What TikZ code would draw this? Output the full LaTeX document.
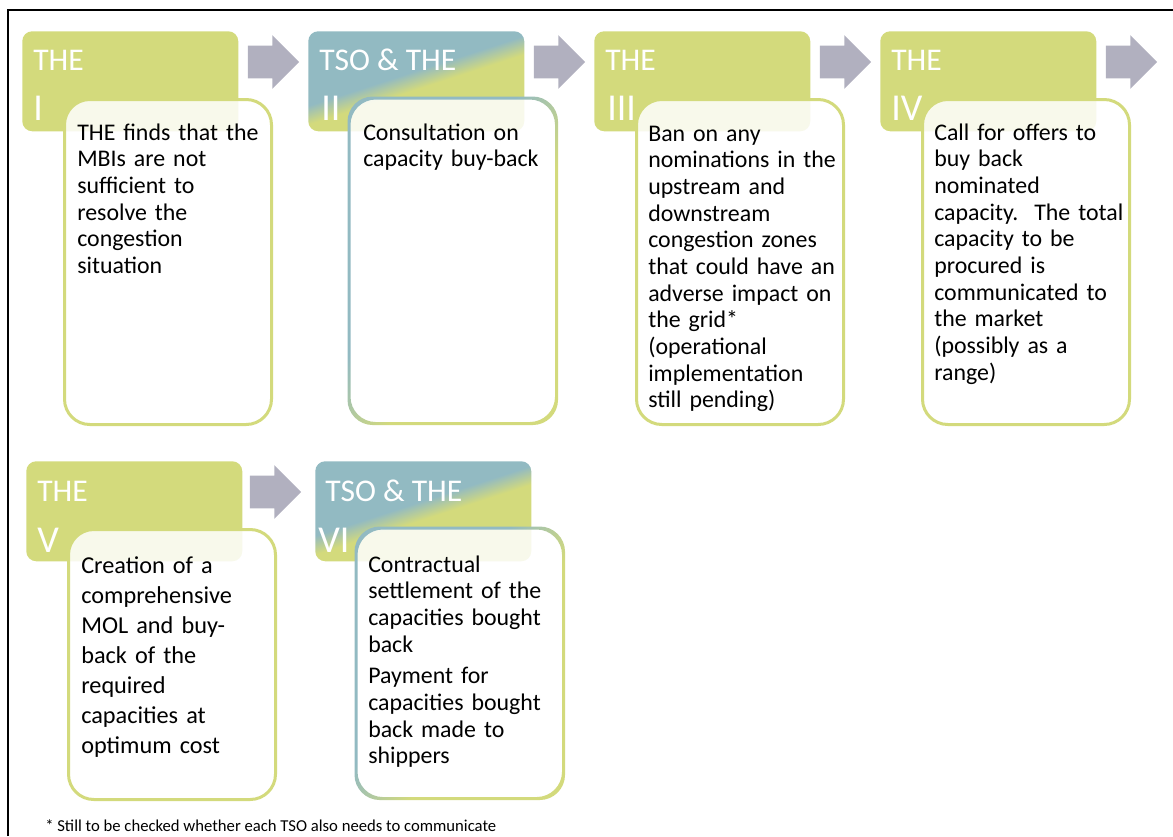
\documentclass[tikz,border=0pt]{standalone}
\usepackage{fontspec}
\setmainfont{Carlito}
\usetikzlibrary{calc,shapes.arrows}

\definecolor{thegreen}{RGB}{211,218,124}
\definecolor{tsoblue}{RGB}{146,186,194}
\definecolor{arrowgrey}{RGB}{177,176,191}

\pgfdeclarehorizontalshading{tsohead}{100bp}{color(0bp)=(tsoblue); color(46bp)=(tsoblue); color(53bp)=(thegreen); color(100bp)=(thegreen)}
\pgfdeclarehorizontalshading{tsoring}{100bp}{color(0bp)=(tsoblue); color(43bp)=(tsoblue); color(57bp)=(thegreen); color(100bp)=(thegreen)}

\tikzset{
	hdbox/.style={rectangle, rounded corners=7.5pt, minimum width=162pt, minimum height=75pt, inner sep=0pt, anchor=north west},
	thehead/.style={hdbox, fill=thegreen},
	tsohead/.style={hdbox, shade, shading=tsohead, shading angle=-72},
	hdlabel/.style={text=white, font=\fontsize{23.7pt}{26pt}\selectfont, anchor=base west, inner sep=0pt},
	hdnum/.style={text=white, font=\fontsize{28.5pt}{30pt}\selectfont, anchor=base west, inner sep=0pt},
	txbox/.style={rectangle, rounded corners=19pt, minimum width=155.25pt, inner sep=0pt, anchor=north west, fill=white, fill opacity=0.85},
	thebox/.style={txbox, draw=thegreen, line width=2.25pt},
	ringshade/.style={shading=tsoring, shading angle=-33, even odd rule, rounded corners=19pt},
	txt/.style={anchor=base west, inner sep=0pt, align=left, text width=155pt, font=\fontsize{17.9pt}{20pt}\selectfont},
	arr/.style={single arrow, fill=arrowgrey, minimum height=38.5pt, minimum width=39.75pt, single arrow head extend=7.9pt, inner xsep=0pt, inner ysep=12pt, anchor=west}
}

\begin{document}
\begin{tikzpicture}[x=0.75pt,y=-0.75pt]
	\useasboundingbox (0,0) rectangle (1173,836);
	\draw[line width=1.1pt] (8,836) -- (8,10) -- (1173,10);

	% first row
	\node[thehead] (h1) at (22,31) {};
	\node[tsohead] (h2) at (308,31) {};
	\node[thehead] (h3) at (594,31) {};
	\node[thehead] (h4) at (880,31) {};
	\node[hdlabel] (l1) at ($(h1.north west)+(11,39)$) {THE};
	\node[hdlabel] (l2) at ($(h2.north west)+(11,39)$) {TSO \& THE};
	\node[hdlabel] (l3) at ($(h3.north west)+(11,39)$) {THE};
	\node[hdlabel] (l4) at ($(h4.north west)+(11,39)$) {THE};
	\node[hdnum] (n1) at ($(h1.north west)+(11,89)$) {I};
	\node[hdnum] (n2) at ($(h2.north west)+(13,89)$) {II};
	\node[hdnum] (n3) at ($(h3.north west)+(13,89)$) {III};
	\node[hdnum] (n4) at ($(h4.north west)+(11,89)$) {IV};
	\node[arr] (a12) at ($(h1.north east)+(9,31)$) {};
	\node[arr] (a23) at ($(h2.north east)+(9,31)$) {};
	\node[arr] (a34) at ($(h3.north east)+(9,31)$) {};
	\node[arr] (a45) at ($(h4.north east)+(9,31)$) {};

	\node[thebox, minimum height=243.75pt] (b1) at ($(h1.north west)+(41,67)$) {};
	\node[txbox, minimum height=243.75pt] (b2) at ($(h2.north west)+(41,67)$) {};
	\shade[ringshade] ($(b2.north west)+(-1.5,-1.5)$) rectangle ($(b2.south east)+(1.5,1.5)$) ($(b2.north west)+(1.5,1.5)$) rectangle ($(b2.south east)+(-1.5,-1.5)$);
	\node[thebox, minimum height=243.75pt] (b3) at ($(h3.north west)+(41,67)$) {};
	\node[thebox, minimum height=243.75pt] (b4) at ($(h4.north west)+(41,67)$) {};

	\node[txt] (t1) at ($(b1.north west)+(14,42)$) {THE finds that the\\MBIs are not\\sufficient to\\resolve the\\congestion\\situation};
	\node[txt] (t2) at ($(b2.north west)+(14,42)$) {Consultation on\\capacity buy-back};
	\node[txt] (t3) at ($(b3.north west)+(13,43)$) {Ban on any\\nominations in the\\upstream and\\downstream\\congestion zones\\that could have an\\adverse impact on\\the grid*\\(operational\\implementation\\still pending)};
	\node[txt] (t4) at ($(b4.north west)+(13,42)$) {Call for offers to\\buy back\\nominated\\capacity.\ \ The total\\capacity to be\\procured is\\communicated to\\the market\\(possibly as a\\range)};

	% second row
	\node[thehead] (h5) at (26,461) {};
	\node[tsohead] (h6) at (315,461) {};
	\node[hdlabel] (l5) at ($(h5.north west)+(11,40)$) {THE};
	\node[hdlabel] (l6) at ($(h6.north west)+(10,40)$) {TSO \& THE};
	\node[hdnum] (n5) at ($(h5.north west)+(11,91)$) {V};
	\node[hdnum] (n6) at ($(h6.north west)+(3,91)$) {VI};
	\node[arr] (a56) at ($(h5.north east)+(7,31)$) {};

	\node[thebox, minimum height=202.5pt] (b5) at ($(h5.north west)+(41,67)$) {};
	\node[txbox, minimum height=202.5pt] (b6) at ($(h6.north west)+(41,67)$) {};
	\shade[ringshade] ($(b6.north west)+(-1.5,-1.5)$) rectangle ($(b6.south east)+(1.5,1.5)$) ($(b6.north west)+(1.5,1.5)$) rectangle ($(b6.south east)+(-1.5,-1.5)$);

	\node[txt, font=\fontsize{18.2pt}{22.5pt}\selectfont] (t5) at ($(b5.north west)+(14,45)$) {Creation of a\\comprehensive\\MOL and buy-\\back of the\\required\\capacities at\\optimum cost};
	\node[txt] (t6) at ($(b6.north west)+(12,44)$) {Contractual\\settlement of the\\capacities bought\\back\\[3.75pt]Payment for\\capacities bought\\back made to\\shippers};

	\node[anchor=base west, inner sep=0pt, font=\fontsize{12.5pt}{14pt}\selectfont] (note) at (45,831) {* Still to be checked whether each TSO also needs to communicate};
\end{tikzpicture}
\end{document}
